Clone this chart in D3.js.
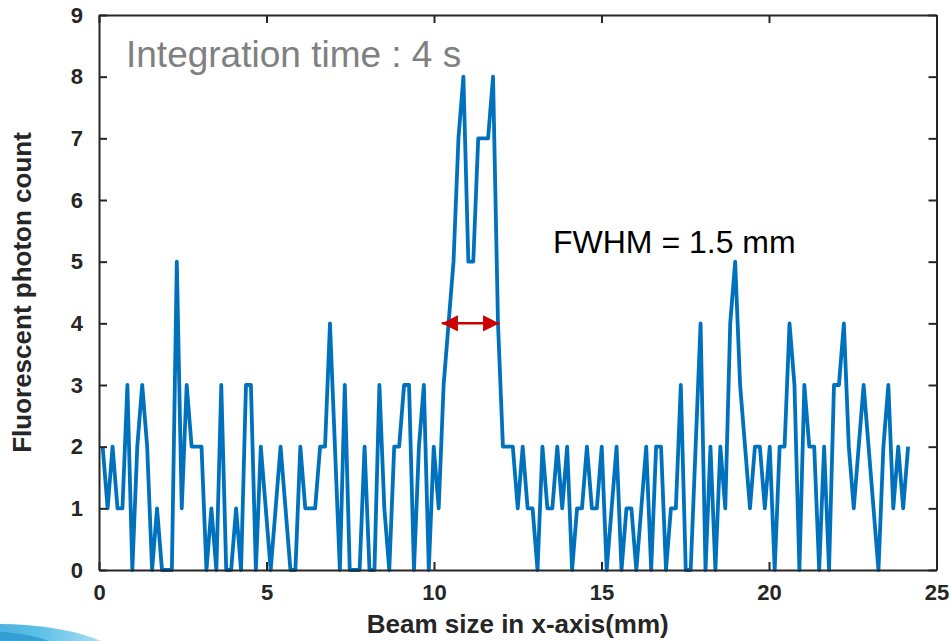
<!DOCTYPE html>
<html>
<head>
<meta charset="utf-8">
<script src="https://cdn.jsdelivr.net/npm/d3@7"></script>
<style>
  body { margin: 0; background: #ffffff; }
  svg text { font-family: "Liberation Sans", Arial, Helvetica, sans-serif; }
</style>
</head>
<body>
<div id="chart"></div>
<script>
// photon counts, one sample every ~0.1475 mm starting at 0.11 mm
let counts = [
    2, 1, 2, 1, 1, 3, 0, 2, 3, 2,
    0, 1, 0, 0, 0, 5, 1, 3, 2, 2,
    2, 0, 1, 0, 3, 0, 0, 1, 0, 3,
    3, 0, 2, 1, 0, 1, 2, 1, 0, 0,
    2, 1, 1, 1, 2, 2, 4, 2, 0, 3,
    0, 0, 0, 2, 0, 0, 3, 1, 0, 2,
    2, 3, 3, 0, 2, 3, 0, 2, 1, 3,
    4, 5, 7, 8, 5, 5, 7, 7, 7, 8,
    4, 2, 2, 2, 1, 2, 1, 1, 0, 2,
    1, 1, 2, 1, 2, 0, 1, 1, 2, 1,
    1, 2, 0, 1, 2, 0, 1, 1, 0, 1,
    2, 0, 2, 2, 0, 1, 1, 3, 0, 0,
    2, 4, 0, 2, 0, 2, 1, 4, 5, 3,
    2, 1, 2, 2, 1, 2, 0, 2, 2, 4,
    3, 0, 3, 2, 2, 0, 2, 0, 3, 3,
    4, 2, 1, 2, 3, 2, 1, 0, 2, 3,
    1, 2, 1, 2
];
let xStart = 0.11;
let xStep = 0.1475;

let xTicks = [0, 5, 10, 15, 20, 25];
let yTicks = [0, 1, 2, 3, 4, 5, 6, 7, 8, 9];
let fwhmArrow = [10.23, 11.95]; // mm, drawn at half max
let halfMax = 4;

let lineColour = "#0072BD";
let axisColour = "#262626";
let arrowColour = "#CC0000";

const width = 950;
const height = 641;
const margin = { top: 15, right: 13.5, bottom: 71, left: 99 };

var svg = d3.select("#chart")
    .append("svg")
    .attr("width", width)
    .attr("height", height);

var x = d3.scaleLinear().domain([0, 25]).range([margin.left, width - margin.right]);
var y = d3.scaleLinear().domain([0, 9]).range([height - margin.bottom, margin.top]);

// little logo swoosh in the corner
var defs = svg.append("defs");
var grad = defs.append("linearGradient")
    .attr("id", "swoosh")
    .attr("x1", "0%").attr("y1", "0%").attr("x2", "100%").attr("y2", "0%");
grad.append("stop").attr("offset", "0%").attr("stop-color", "#1f86c6");
grad.append("stop").attr("offset", "65%").attr("stop-color", "#5cc0e6");
grad.append("stop").attr("offset", "100%").attr("stop-color", "#d5eff9");
svg.append("ellipse")
    .attr("cx", 0).attr("cy", 672)
    .attr("rx", 132).attr("ry", 48)
    .attr("fill", "url(#swoosh)");
svg.append("ellipse")
    .attr("cx", -6).attr("cy", 682)
    .attr("rx", 96).attr("ry", 50)
    .attr("fill", "#2b95d2")
    .attr("opacity", 0.75);

var line = d3.line()
    .x(function(d, i) { return x(xStart + i * xStep); })
    .y(function(d) { return y(d); });

svg.append("path")
    .datum(counts)
    .attr("d", line)
    .attr("fill", "none")
    .attr("stroke", lineColour)
    .attr("stroke-width", 3.8)
    .attr("stroke-linejoin", "round");

// axes, MATLAB box style with inward ticks
function styleAxis(g) {
    g.selectAll(".domain").attr("stroke", axisColour).attr("stroke-width", 2);
    g.selectAll(".tick line").attr("stroke", axisColour).attr("stroke-width", 2);
    g.selectAll(".tick text")
        .attr("fill", axisColour)
        .attr("font-size", 22)
        .attr("font-weight", "bold");
}

svg.append("g")
    .attr("transform", "translate(0," + y(0) + ")")
    .call(d3.axisBottom(x).tickValues(xTicks).tickSizeInner(-8).tickSizeOuter(0).tickPadding(14))
    .call(styleAxis);

svg.append("g")
    .attr("transform", "translate(0," + y(9) + ")")
    .call(d3.axisTop(x).tickValues(xTicks).tickSizeInner(-8).tickSizeOuter(0).tickFormat(""))
    .call(styleAxis);

svg.append("g")
    .attr("transform", "translate(" + x(0) + ",0)")
    .call(d3.axisLeft(y).tickValues(yTicks).tickSizeInner(-8).tickSizeOuter(0).tickPadding(16))
    .call(styleAxis);

svg.append("g")
    .attr("transform", "translate(" + x(25) + ",0)")
    .call(d3.axisRight(y).tickValues(yTicks).tickSizeInner(-8).tickSizeOuter(0).tickFormat(""))
    .call(styleAxis);

// axis titles
svg.append("text")
    .attr("x", (x(0) + x(25)) / 2)
    .attr("y", 633)
    .attr("text-anchor", "middle")
    .attr("font-size", 26)
    .attr("font-weight", "bold")
    .attr("fill", axisColour)
    .text("Beam size in x-axis(mm)");

svg.append("text")
    .attr("transform", "translate(31," + (y(0) + y(9)) / 2 + ") rotate(-90)")
    .attr("text-anchor", "middle")
    .attr("font-size", 26)
    .attr("font-weight", "bold")
    .attr("fill", axisColour)
    .text("Fluorescent photon count");

// annotations
svg.append("text")
    .attr("x", 126)
    .attr("y", 67)
    .attr("font-size", 37)
    .attr("fill", "#808080")
    .text("Integration time : 4 s");

svg.append("text")
    .attr("x", 553)
    .attr("y", 253)
    .attr("font-size", 32)
    .attr("fill", "#000000")
    .text("FWHM = 1.5 mm");

// double-headed red arrow across the FWHM
var marker = defs.append("marker")
    .attr("id", "head")
    .attr("viewBox", "0 0 10 10")
    .attr("refX", 10).attr("refY", 5)
    .attr("markerWidth", 6.5).attr("markerHeight", 6.5)
    .attr("markerUnits", "strokeWidth")
    .attr("orient", "auto-start-reverse");
marker.append("path")
    .attr("d", "M0,0 L10,5 L0,10 Z")
    .attr("fill", arrowColour);

svg.append("line")
    .attr("x1", x(fwhmArrow[0]))
    .attr("x2", x(fwhmArrow[1]))
    .attr("y1", y(halfMax))
    .attr("y2", y(halfMax))
    .attr("stroke", arrowColour)
    .attr("stroke-width", 2.5)
    .attr("marker-start", "url(#head)")
    .attr("marker-end", "url(#head)");
</script>
</body>
</html>
